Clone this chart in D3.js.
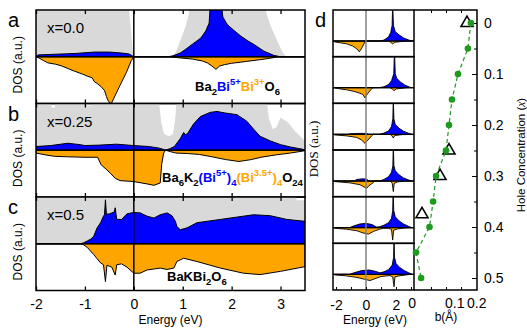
<!DOCTYPE html>
<html>
<head>
<meta charset="utf-8">
<script src="https://cdn.jsdelivr.net/npm/d3@7"></script>
<style>
  body { margin: 0; background: #fff; }
  svg { display: block; font-family: "Liberation Sans", Arial, sans-serif; }
</style>
</head>
<body>
<div id="chart"></div>
<script>
// ---- data ----
// energy axis of panels a-c
const energyTicks = [-2, -1, 0, 1, 2, 3];
const panelLetters = ['a', 'b', 'c'];
const dopingLabels = ['x=0.0', 'x=0.25', 'x=0.5'];

// DOS curves: [energy (eV), DOS (a.u.)]; orange = Bi3+ channel, drawn downward
const grayA = [[-2,1.2],[-0.12,1.2],[-0.06,0.6],[-0.02,0.1],[0,0],[0.8,0],[0.85,0.08],[0.96,0.37],[1.06,0.65],[1.12,0.9],[1.17,1.2],[2.66,1.2],[2.72,0.9],[2.8,0.65],[2.95,0.3],[3.05,0.08],[3.12,0],[3.5,0]];
const blueA = [[-2,0.02],[-1.95,0.04],[-1.7,0.05],[-1.2,0.07],[-0.8,0.1],[-0.5,0.1],[-0.25,0.08],[-0.1,0.06],[-0.03,0.02],[0,0],[0.7,0],[0.8,0.02],[0.95,0.08],[1.06,0.16],[1.2,0.27],[1.37,0.4],[1.47,0.55],[1.54,0.72],[1.57,1.2],[1.78,1.2],[1.82,0.85],[1.91,0.69],[2.05,0.56],[2.19,0.44],[2.33,0.34],[2.46,0.26],[2.66,0.12],[2.86,0.03],[3.0,0],[3.5,0]];
const orangeA = [[-2,0],[-1.95,0.02],[-1.85,0.08],[-1.76,0.13],[-1.6,0.16],[-1.49,0.19],[-1.35,0.25],[-1.21,0.31],[-1.05,0.37],[-0.94,0.42],[-0.85,0.45],[-0.81,0.53],[-0.75,0.57],[-0.67,0.64],[-0.6,0.72],[-0.56,0.85],[-0.53,0.93],[-0.48,1.0],[-0.45,0.98],[-0.3,0.65],[-0.15,0.33],[-0.05,0.08],[0,0],[0.7,0],[0.9,0.02],[1.2,0.05],[1.4,0.09],[1.5,0.13],[1.6,0.2],[1.68,0.27],[1.75,0.2],[1.85,0.17],[2.0,0.14],[2.3,0.1],[2.6,0.06],[2.8,0.03],[2.95,0],[3.5,0]];

const grayB = [[-2,1.2],[-1.72,1.2],[-1.68,0.92],[-1.62,0.9],[-1.58,1.2],[-0.98,1.2],[-0.95,0.95],[-0.88,0.95],[-0.85,1.2],[0.5,1.2],[0.56,0.6],[0.62,0.35],[0.72,0.3],[0.8,0.35],[0.85,0.7],[0.88,1.2],[2.7,1.2],[2.76,0.7],[2.84,0.45],[2.92,0.5],[3.0,0.7],[3.15,0.6],[3.3,0.4],[3.5,0.2]];
const blueB = [[-2,0.08],[-1.7,0.1],[-1.35,0.15],[-1.1,0.12],[-1.0,0.1],[-0.7,0.11],[-0.35,0.13],[0,0.1],[0.3,0.08],[0.5,0.05],[0.6,0.02],[0.65,0],[0.75,0.04],[0.83,0.08],[0.95,0.25],[1.02,0.38],[1.05,0.33],[1.1,0.36],[1.22,0.56],[1.36,0.72],[1.56,0.81],[1.7,0.83],[1.85,0.8],[2.11,0.76],[2.31,0.62],[2.45,0.45],[2.58,0.3],[2.79,0.2],[3.0,0.12],[3.2,0.07],[3.46,0.02],[3.5,0]];
const orangeB = [[-2,0.06],[-1.8,0.1],[-1.62,0.13],[-1.36,0.14],[-1.0,0.15],[-0.74,0.15],[-0.67,0.31],[-0.55,0.42],[-0.48,0.49],[-0.38,0.6],[-0.28,0.65],[0,0.67],[0.27,0.72],[0.41,0.75],[0.54,0.7],[0.57,0.3],[0.61,0.06],[0.65,0],[0.75,0.03],[0.86,0.06],[1.1,0.07],[1.34,0.09],[1.6,0.14],[1.88,0.2],[2.15,0.24],[2.4,0.2],[2.6,0.15],[2.9,0.1],[3.2,0.06],[3.5,0.01]];

const grayC = [[-2,1.2],[3.3,1.2],[3.33,0.93],[3.5,0.93]];
const blueC = [[-2,0],[-1.1,0],[-1.03,0.02],[-0.95,0.06],[-0.88,0.1],[-0.82,0.16],[-0.75,0.34],[-0.68,0.45],[-0.62,0.59],[-0.6,0.62],[-0.58,0.94],[-0.56,0.63],[-0.5,0.64],[-0.45,0.66],[-0.4,0.68],[-0.38,0.77],[-0.35,0.52],[-0.25,0.52],[-0.14,0.64],[0,0.67],[0.13,0.66],[0.27,0.59],[0.41,0.55],[0.54,0.62],[0.68,0.66],[0.78,0.6],[0.85,0.48],[0.88,0.37],[0.95,0.3],[1.09,0.34],[1.29,0.45],[1.77,0.52],[2.24,0.59],[2.45,0.62],[2.79,0.6],[3.13,0.52],[3.5,0.48]];
const orangeC = [[-2,0],[-1.1,0],[-1.03,0.02],[-0.95,0.08],[-0.82,0.23],[-0.75,0.32],[-0.68,0.41],[-0.62,0.45],[-0.58,0.81],[-0.55,0.46],[-0.45,0.5],[-0.38,0.67],[-0.35,0.45],[-0.25,0.43],[-0.14,0.5],[0,0.63],[0.13,0.63],[0.27,0.56],[0.41,0.54],[0.54,0.52],[0.68,0.55],[0.82,0.52],[0.88,0.38],[1.02,0.31],[1.29,0.38],[1.77,0.52],[2.24,0.63],[2.58,0.66],[3.0,0.59],[3.5,0.49]];

// panel d: six small DOS plots
const energyTicksD = [-2, -1, 0, 1, 2, 3];
const energyLabelsD = [-2, 0, 2];
const blueD1 = [[-2.2,0],[0.9,0],[1.2,0.03],[1.5,0.13],[1.65,0.28],[1.74,0.5],[1.78,1.2],[1.83,0.5],[1.95,0.3],[2.2,0.2],[2.5,0.1],[2.8,0.04],[3.05,0],[3.2,0]];
const orangeD1 = [[-2.2,0],[-2.07,0.03],[-1.7,0.06],[-1.29,0.09],[-0.9,0.16],[-0.62,0.25],[-0.44,0.35],[-0.25,0.2],[-0.07,0.03],[0,0],[1.5,0],[1.65,0.04],[1.78,0.1],[1.9,0.04],[2.3,0.02],[2.8,0],[3.2,0]];
const blueD2 = [[-2.2,0],[0.9,0],[1.2,0.03],[1.5,0.1],[1.7,0.22],[1.85,0.45],[1.9,1.2],[1.95,0.45],[2.05,0.3],[2.3,0.18],[2.6,0.08],[2.9,0.02],[3.05,0],[3.2,0]];
const orangeD2 = [[-2.2,0],[-2.07,0.01],[-1.6,0.05],[-1.29,0.07],[-0.8,0.12],[-0.4,0.18],[-0.2,0.22],[-0.07,0.33],[0.1,0.2],[0.38,0.03],[0.5,0],[1.6,0],[1.75,0.04],[1.88,0.1],[2.0,0.04],[2.4,0.02],[2.8,0],[3.2,0]];
const blueD3 = [[-2.2,0],[-1.2,0],[-1.0,0.02],[-0.5,0.03],[0,0.03],[0.2,0],[0.9,0],[1.2,0.04],[1.5,0.11],[1.7,0.25],[1.79,0.5],[1.82,1.2],[1.86,0.5],[1.95,0.32],[2.2,0.2],[2.5,0.1],[2.8,0.04],[3.05,0],[3.2,0]];
const orangeD3 = [[-2.2,0],[-2.07,0.02],[-1.29,0.05],[-0.62,0.1],[-0.3,0.18],[-0.07,0.29],[0.1,0.2],[0.38,0.05],[0.49,0],[1.6,0],[1.72,0.04],[1.82,0.12],[1.92,0.04],[2.4,0.01],[3.2,0]];
const blueD4 = [[-2.2,0],[-0.8,0],[-0.62,0.05],[-0.2,0.07],[0.04,0.06],[0.2,0],[0.9,0],[1.2,0.05],[1.5,0.14],[1.7,0.28],[1.79,0.5],[1.82,1.2],[1.86,0.5],[1.95,0.33],[2.2,0.2],[2.5,0.1],[2.8,0.04],[3.05,0],[3.2,0]];
const orangeD4 = [[-2.2,0],[-2.07,0.02],[-1.07,0.06],[-0.4,0.12],[0.04,0.24],[0.2,0.15],[0.49,0.05],[0.6,0],[1.65,0],[1.75,0.08],[1.82,0.34],[1.88,0.08],[2.1,0.03],[2.6,0],[3.2,0]];
const blueD5 = [[-2.2,0],[-1.1,0],[-0.8,0.06],[-0.4,0.12],[0,0.14],[0.4,0.1],[0.71,0.02],[0.9,0.03],[1.2,0.08],[1.5,0.16],[1.7,0.3],[1.78,0.55],[1.81,1.2],[1.85,0.55],[1.95,0.35],[2.2,0.22],[2.5,0.12],[2.8,0.05],[3.05,0],[3.2,0]];
const orangeD5 = [[-2.2,0],[-2.07,0.02],[-1.3,0.05],[-0.6,0.1],[-0.2,0.17],[0.16,0.21],[0.5,0.12],[0.9,0.05],[1.16,0.02],[1.5,0.02],[1.7,0.06],[1.78,0.4],[1.84,0.08],[2.1,0.04],[2.6,0.01],[3.2,0]];
const blueD6 = [[-2.2,0],[-1.1,0],[-0.8,0.05],[-0.3,0.12],[0.2,0.14],[0.6,0.1],[0.93,0.05],[1.2,0.08],[1.5,0.15],[1.75,0.3],[1.84,0.55],[1.87,1.2],[1.9,0.55],[2.0,0.35],[2.25,0.22],[2.55,0.12],[2.85,0.05],[3.1,0],[3.2,0]];
const orangeD6 = [[-2.2,0],[-2.07,0.02],[-1.3,0.05],[-0.6,0.1],[-0.1,0.16],[0.27,0.2],[0.6,0.14],[1.0,0.07],[1.6,0.04],[1.78,0.08],[1.87,0.4],[1.93,0.08],[2.2,0.05],[2.8,0.01],[3.2,0]];

// bond disproportionation b vs hole concentration x
const holeX = [0, 0.05, 0.1, 0.15, 0.2, 0.25, 0.3, 0.35, 0.4, 0.45, 0.5];
const bDisp = [0.183, 0.173, 0.14, 0.12, 0.11, 0.1, 0.067, 0.057, 0.045, 0.0, 0.017];
const triX = [0, 0.25, 0.3, 0.375];
const triB = [0.17, 0.11, 0.08, 0.02];
const holeTicks = [0, 0.1, 0.2, 0.3, 0.4, 0.5];
const bTicks = [0, 0.1, 0.2];

// ---- drawing ----
const W = 527, H = 328;
const BLUE = '#0000ff', ORANGE = '#ffa500', GRAY = '#d9d9d9', GREEN = '#1e9a1e';

const svg = d3.select('#chart').append('svg')
  .attr('width', W).attr('height', H);
const defs = svg.append('defs');

/* panels a-c */
const xE = d3.scaleLinear().domain([-2, 3.5]).range([36, 305]);
const panelTop = 10, panelH = 93.5;
const abc = [
  {gray: grayA, blue: blueA, orange: orangeA},
  {gray: grayB, blue: blueB, orange: orangeB},
  {gray: grayC, blue: blueC, orange: orangeC},
];

abc.forEach((p, i) => {
  const top = panelTop + i * panelH;
  const y = d3.scaleLinear().domain([-1, 1]).range([top + panelH, top]);
  const g = svg.append('g');

  defs.append('clipPath').attr('id', 'clip' + i)
    .append('rect').attr('x', xE.range()[0]).attr('y', top)
    .attr('width', xE.range()[1] - xE.range()[0]).attr('height', panelH);
  const plot = g.append('g').attr('clip-path', `url(#clip${i})`);

  const up = d3.area().x(d => xE(d[0])).y0(y(0)).y1(d => y(d[1]));
  const down = d3.area().x(d => xE(d[0])).y0(y(0)).y1(d => y(-d[1]));

  plot.append('path').datum(p.gray).attr('d', up).attr('fill', GRAY);
  plot.append('path').datum(p.blue).attr('d', up)
    .attr('fill', BLUE).attr('stroke', '#000').attr('stroke-width', 1);
  plot.append('path').datum(p.orange).attr('d', down)
    .attr('fill', ORANGE).attr('stroke', '#000').attr('stroke-width', 1);

  g.append('line').attr('x1', xE(-2)).attr('x2', xE(3.5))
    .attr('y1', y(0)).attr('y2', y(0)).attr('stroke', '#000').attr('stroke-width', 1.5);
  g.append('line').attr('x1', xE(0)).attr('x2', xE(0))
    .attr('y1', top).attr('y2', top + panelH).attr('stroke', '#000').attr('stroke-width', 1.5);

  // inward ticks top and bottom
  const tTop = g.append('g').attr('transform', `translate(0,${top})`)
    .call(d3.axisTop(xE).tickValues(energyTicks).tickSizeInner(-4).tickSizeOuter(0).tickFormat(''));
  const bot = d3.axisBottom(xE).tickValues(energyTicks).tickSizeInner(-4).tickSizeOuter(0)
    .tickPadding(9).tickFormat(i === 2 ? (d => String(d)) : '');
  const tBot = g.append('g').attr('transform', `translate(0,${top + panelH})`).call(bot);
  [tTop, tBot].forEach(a => {
    a.select('.domain').remove();
    a.selectAll('line').attr('stroke-width', 1.3);
    a.selectAll('text').attr('font-size', 14).attr('font-family', '"Liberation Sans", Arial, sans-serif').attr('fill', '#000');
  });

  g.append('rect').attr('x', xE(-2)).attr('y', top)
    .attr('width', xE(3.5) - xE(-2)).attr('height', panelH)
    .attr('fill', 'none').attr('stroke', '#000').attr('stroke-width', 1.5);

  g.append('text').attr('x', 47).attr('y', top + 23)
    .attr('font-size', 15).text(dopingLabels[i]);
  g.append('text').attr('x', 8).attr('y', top + 17)
    .attr('font-size', 20).text(panelLetters[i]);
  g.append('text')
    .attr('transform', `translate(22,${y(0) + 8}) rotate(-90)`)
    .attr('text-anchor', 'middle').attr('font-size', 12).text('DOS (a.u.)');
});

// chemical formulas
function formula(x, yb, parts) {
  const t = svg.append('text').attr('x', x).attr('y', yb)
    .attr('font-size', 13).attr('font-weight', 'bold');
  parts.forEach(([s, col, pos]) => {
    const ts = t.append('tspan').attr('fill', col).text(s);
    if (pos === 'sub') ts.attr('font-size', 9.5).attr('baseline-shift', -3.5);
    if (pos === 'sup') ts.attr('font-size', 9.5).attr('baseline-shift', 6);
  });
}
formula(195, 91, [['Ba','#000'],['2','#000','sub'],['Bi',BLUE],['5+',BLUE,'sup'],['Bi',ORANGE],['3+',ORANGE,'sup'],['O','#000'],['6','#000','sub']]);
formula(162, 182, [['Ba','#000'],['6','#000','sub'],['K','#000'],['2','#000','sub'],['(Bi',BLUE],['5+',BLUE,'sup'],[')',BLUE],['4',BLUE,'sub'],['(Bi',ORANGE],['3.5+',ORANGE,'sup'],[')',ORANGE],['4',ORANGE,'sub'],['O','#000'],['24','#000','sub']]);
formula(167, 281, [['BaKBi','#000'],['2','#000','sub'],['O','#000'],['6','#000','sub']]);

svg.append('text').attr('x', xE(0.75)).attr('y', 324)
  .attr('text-anchor', 'middle').attr('font-size', 12).text('Energy (eV)');

/* panel d */
const xD = d3.scaleLinear().domain([-2.2, 3.2]).range([333, 414]);
const dTop = 10, dH = 280 / 6;
const small = [
  {blue: blueD1, orange: orangeD1}, {blue: blueD2, orange: orangeD2},
  {blue: blueD3, orange: orangeD3}, {blue: blueD4, orange: orangeD4},
  {blue: blueD5, orange: orangeD5}, {blue: blueD6, orange: orangeD6},
];
const gd = svg.append('g');
small.forEach((p, i) => {
  const top = dTop + i * dH;
  const y = d3.scaleLinear().domain([-(dH - 31) / 31, 1]).range([top + dH, top]);
  defs.append('clipPath').attr('id', 'clipd' + i)
    .append('rect').attr('x', 333).attr('y', top).attr('width', 81).attr('height', dH);
  const plot = gd.append('g').attr('clip-path', `url(#clipd${i})`);
  const up = d3.area().x(d => xD(d[0])).y0(y(0)).y1(d => y(d[1]));
  const down = d3.area().x(d => xD(d[0])).y0(y(0)).y1(d => y(-d[1]));
  plot.append('path').datum(p.orange).attr('d', down)
    .attr('fill', ORANGE).attr('stroke', '#000').attr('stroke-width', 0.9);
  plot.append('path').datum(p.blue).attr('d', up)
    .attr('fill', BLUE).attr('stroke', '#000').attr('stroke-width', 0.9);
  plot.append('line').attr('x1', xD(-2.07)).attr('x2', xD(3.05))
    .attr('y1', y(0)).attr('y2', y(0)).attr('stroke', '#000').attr('stroke-width', 0.8);
});
gd.append('line').attr('x1', xD(0)).attr('x2', xD(0)).attr('y1', dTop).attr('y2', dTop + 280)
  .attr('stroke', '#808080').attr('stroke-width', 1.5);
small.forEach((p, i) => {
  gd.append('rect').attr('x', 333).attr('y', dTop + i * dH).attr('width', 81).attr('height', dH)
    .attr('fill', 'none').attr('stroke', '#000').attr('stroke-width', 1.5);
});
const dAxis = gd.append('g').attr('transform', `translate(0,${dTop + 280})`)
  .call(d3.axisBottom(xD).tickValues(energyTicksD).tickSizeInner(-3).tickSizeOuter(0)
    .tickPadding(10).tickFormat(d => energyLabelsD.includes(d) ? String(d) : ''));
dAxis.select('.domain').remove();
dAxis.selectAll('text').attr('font-size', 14).attr('font-family', '"Liberation Sans", Arial, sans-serif');
gd.append('text').attr('x', 375).attr('y', 324)
  .attr('text-anchor', 'middle').attr('font-size', 12).text('Energy (eV)');
gd.append('text').attr('transform', 'translate(318,149) rotate(-90)')
  .attr('text-anchor', 'middle').attr('font-size', 13)
  .attr('font-family', '"Liberation Serif", "Times New Roman", serif').text('DOS (a.u.)');
svg.append('text').attr('x', 315).attr('y', 27).attr('font-size', 20).text('d');

/* b vs x panel */
const xB = d3.scaleLinear().domain([0, 0.2]).range([416, 476]);
const yX = d3.scaleLinear().domain([0, 0.5]).range([23, 278]);
const gb = svg.append('g');
const minorB = [0.05, 0.1, 0.15];
const minorX = d3.range(0, 0.55, 0.05);

const rAx = gb.append('g').attr('transform', 'translate(477,0)')
  .call(d3.axisRight(yX).tickValues(holeTicks).tickSizeInner(-5).tickSizeOuter(0)
    .tickPadding(7).tickFormat(d => String(d)));
const rMinor = gb.append('g').attr('transform', 'translate(477,0)')
  .call(d3.axisRight(yX).tickValues(minorX).tickSizeInner(-3).tickSizeOuter(0).tickFormat(''));
const bAx = gb.append('g').attr('transform', 'translate(0,290)')
  .call(d3.axisBottom(xB).tickValues(minorB).tickSizeInner(-3).tickSizeOuter(0).tickFormat(''));
const tAx = gb.append('g').attr('transform', 'translate(0,10)')
  .call(d3.axisTop(xB).tickValues(minorB).tickSizeInner(-3).tickSizeOuter(0).tickFormat(''));
[rAx, rMinor, bAx, tAx].forEach(a => a.select('.domain').remove());
rAx.selectAll('text').attr('font-size', 14).attr('font-family', '"Liberation Sans", Arial, sans-serif');
// tick labels of the b axis sit off-centre in the original
const anchors = ['end', 'start', 'start'];
const shifts = [0, -1, -9];
gb.selectAll('.bl').data(bTicks).enter().append('text')
  .attr('x', d => xB(d)).attr('y', 308).attr('dx', (d, i) => shifts[i])
  .attr('text-anchor', (d, i) => anchors[i]).attr('font-size', 14)
  .text(d => String(d));
gb.append('path').attr('d', 'M414,10H477V290H414')
  .attr('fill', 'none').attr('stroke', '#000').attr('stroke-width', 1.5);

const tri = d3.symbol().type(d3.symbolTriangle).size(62);
gb.selectAll('.tri').data(triX).enter().append('path')
  .attr('d', tri).attr('transform', (d, i) => `translate(${xB(triB[i])},${yX(d)})`)
  .attr('fill', 'none').attr('stroke', '#000').attr('stroke-width', 1.6);
const pts = holeX.map((x, i) => [bDisp[i], x]);
gb.append('path').datum(pts)
  .attr('d', d3.line().x(d => xB(d[0])).y(d => yX(d[1])))
  .attr('fill', 'none').attr('stroke', GREEN).attr('stroke-width', 1.2).attr('stroke-dasharray', '4,3');
gb.selectAll('.pt').data(pts).enter().append('circle')
  .attr('cx', d => xB(d[0])).attr('cy', d => yX(d[1])).attr('r', 3.3).attr('fill', GREEN);

gb.append('text').attr('x', 446).attr('y', 321).attr('text-anchor', 'middle')
  .attr('font-size', 12).text('b(Å)');
const hl = gb.append('text').attr('transform', 'translate(525,155) rotate(-90)')
  .attr('text-anchor', 'middle').attr('font-size', 11.5);
hl.append('tspan').text('Hole Concentration (');
hl.append('tspan').attr('font-style', 'italic')
  .attr('font-family', '"Liberation Serif", serif').text('x');
hl.append('tspan').text(')');
</script>
</body>
</html>
